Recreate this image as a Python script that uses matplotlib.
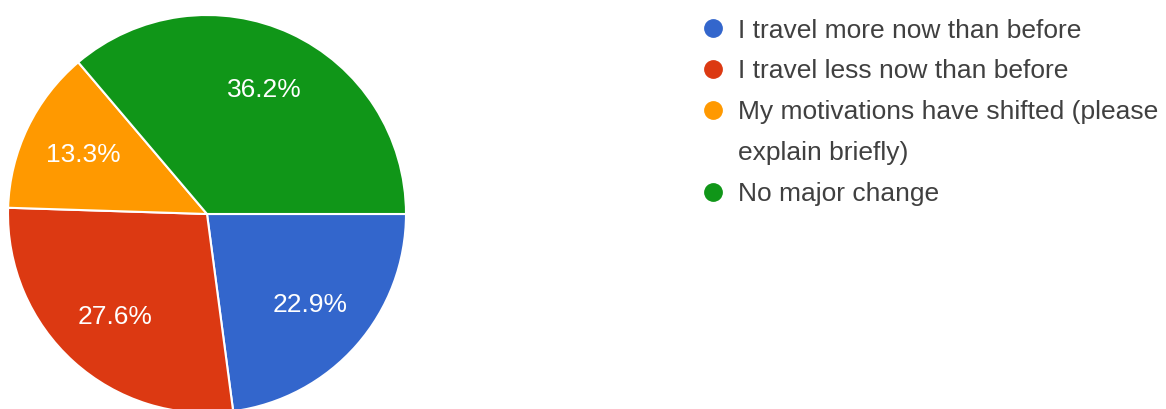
import matplotlib
matplotlib.use("Agg")
import matplotlib.pyplot as plt
from matplotlib.lines import Line2D

plt.rcParams['font.family'] = ['Liberation Sans', 'DejaVu Sans']

# Survey responses (share of respondents, %)
categories = [
    "I travel more now than before",
    "I travel less now than before",
    "My motivations have shifted (please\nexplain briefly)",
    "No major change",
]
shares = [22.9, 27.6, 13.3, 36.2]
colors = ["#3366cc", "#dc3912", "#ff9900", "#109618"]

W, H, DPI = 1166, 410, 100
fig = plt.figure(figsize=(W / DPI, H / DPI), dpi=DPI)
fig.patch.set_facecolor("white")

# pie box in pixels: centre (207, 215), radius 199
cx, cy, r = 207, 215, 199
ax = fig.add_axes([(cx - r) / W, (H - cy - r) / H, 2 * r / W, 2 * r / H])
ax.pie(
    shares,
    colors=colors,
    startangle=0,
    counterclock=False,
    radius=1.0,
    autopct="%1.1f%%",
    pctdistance=0.69,
    wedgeprops=dict(edgecolor="white", linewidth=1.5),
    textprops=dict(color="white", fontsize=19),
)
ax.set_xlim(-1, 1)
ax.set_ylim(-1, 1)
ax.set_aspect("auto")
ax.axis("off")

# legend drawn in figure pixel coordinates
def fx(px):
    return px / W

def fy(py):
    return 1 - py / H

row = 41
marker_x, text_x = 713, 738
first_center, first_base = 29.3, 37.5
line_idx = 0
for label, color in zip(categories, colors):
    yc = first_center + line_idx * row
    fig.add_artist(Line2D([fx(marker_x)], [fy(yc)], marker="o", markersize=12.5,
                          markerfacecolor=color, markeredgecolor=color,
                          transform=fig.transFigure, linestyle="none"))
    for part in label.split("\n"):
        yb = first_base + line_idx * row
        fig.text(fx(text_x), fy(yb), part, fontsize=19, color="#404040",
                 ha="left", va="baseline")
        line_idx += 1

fig.savefig("out.png", dpi=DPI)
